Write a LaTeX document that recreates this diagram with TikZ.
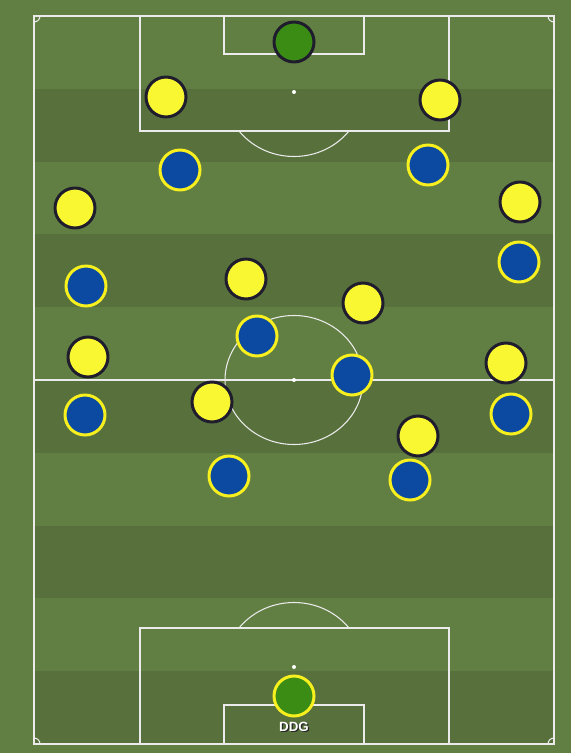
\documentclass[tikz,border=0pt]{standalone}
\usepackage{fontspec}
\newfontfamily\lblfont{Liberation Sans}
\usetikzlibrary{shadows}
\definecolor{grasslight}{RGB}{98,127,67}
\definecolor{grassdark}{RGB}{88,113,60}
\definecolor{kityel}{RGB}{249,247,50}
\definecolor{kitblue}{RGB}{11,74,160}
\definecolor{kitline}{RGB}{30,28,45}
\definecolor{rimyel}{RGB}{247,240,30}
\definecolor{gkgreen}{RGB}{58,140,20}
\tikzset{pline/.style={draw=white!92!black,line width=0.6pt},
hom/.style={circle,draw=kitline,fill=kityel,line width=1.7pt,minimum size=0.8cm,inner sep=0pt,drop shadow={shadow xshift=0.5pt,shadow yshift=-0.5pt,opacity=0.35}},
awy/.style={circle,draw=rimyel,fill=kitblue,line width=1.7pt,minimum size=0.8cm,inner sep=0pt,drop shadow={shadow xshift=0.5pt,shadow yshift=-0.5pt,opacity=0.35}},
homgk/.style={hom,fill=gkgreen},
awygk/.style={awy,fill=gkgreen},
nil/.style={inner sep=0pt}}

\begin{document}
\begin{tikzpicture}[x=0.02cm,y=-0.02cm]
\fill[grasslight] (0,0) rectangle (571,753);
\useasboundingbox (0,0) rectangle (571,753);
% stripes
\foreach \i in {1,3,5,7,9}
  \fill[grassdark] (34,{16+\i*72.8}) rectangle (554,{16+(\i+1)*72.8});
% pitch
\draw[pline] (34,16) rectangle (554,744);
\draw[pline] (34,380) -- (554,380);
\draw[pline] (294,380) ellipse (69 and 64.5);
\fill[white] (294,380) circle (2);
\draw[pline] (140,16) rectangle (449,131);
\draw[pline] (224,16) rectangle (364,54);
\fill[white] (294,92) circle (2);
\draw[pline] (140,628) rectangle (449,744);
\draw[pline] (224,705) rectangle (364,744);
\fill[white] (294,667) circle (2);
\begin{scope}
\clip (140,131) rectangle (449,200);
\draw[pline] (294,92) ellipse (69 and 64.5);
\end{scope}
\begin{scope}
\clip (140,560) rectangle (449,628);
\draw[pline] (294,667) ellipse (69 and 64.5);
\end{scope}
% corners
\draw[pline] (34,22) arc (-90:0:6 and -6);
\draw[pline] (548,16) arc (180:270:6 and -6);
\draw[pline] (34,738) arc (90:0:6 and -6);
\draw[pline] (548,744) arc (180:90:6 and -6);
% yellow side
\node[homgk] (hgk) at (294,42) {};
\node[hom] (h1) at (166,97) {};
\node[hom] (h2) at (440,100) {};
\node[hom] (h3) at (75,208) {};
\node[hom] (h4) at (520,202) {};
\node[hom] (h5) at (246,279) {};
\node[hom] (h6) at (363,303) {};
\node[hom] (h7) at (88,357) {};
\node[hom] (h8) at (506,363) {};
\node[hom] (h9) at (212,402) {};
\node[hom] (h10) at (418,436) {};
% blue side
\node[awy] (a1) at (180,170) {};
\node[awy] (a2) at (428,165) {};
\node[awy] (a3) at (519,262) {};
\node[awy] (a4) at (86,286) {};
\node[awy] (a5) at (257,336) {};
\node[awy] (a6) at (352,375) {};
\node[awy] (a7) at (85,415) {};
\node[awy] (a8) at (511,414) {};
\node[awy] (a9) at (229,476) {};
\node[awy] (a10) at (410,480) {};
\node[awygk] (agk) at (294,696) {};
\node[nil,text=black!85,font=\lblfont\bfseries\fontsize{7.6}{8}\selectfont] at (295.2,728.2) {DDG};
\node[nil,text=white,font=\lblfont\bfseries\fontsize{7.6}{8}\selectfont] (agklbl) at (294,727) {DDG};
\end{tikzpicture}
\end{document}
